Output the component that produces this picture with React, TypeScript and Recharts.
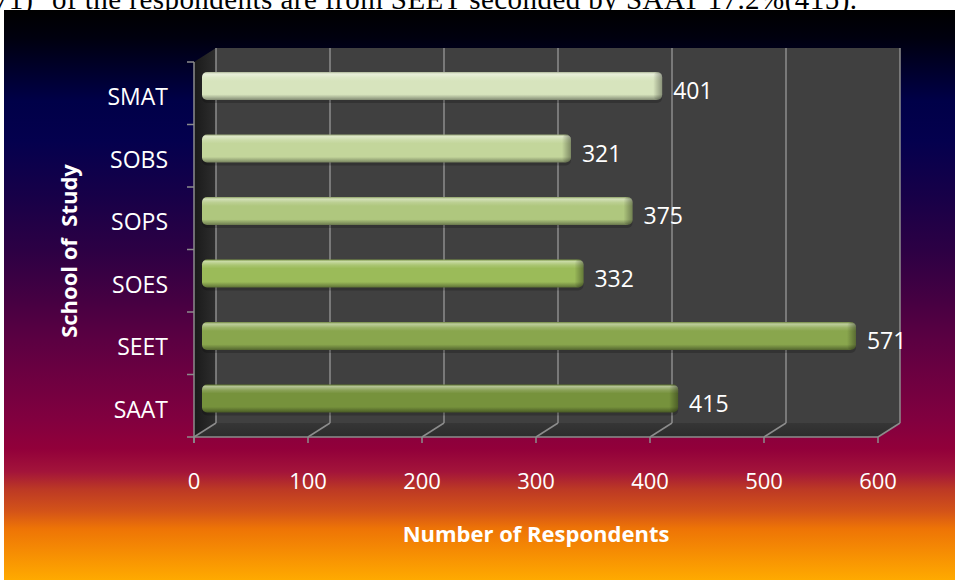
import React from 'react'
import { BarChart, Bar, XAxis, YAxis, CartesianGrid, Cell, LabelList } from 'recharts'

// data
const CATEGORIES = ['SMAT', 'SOBS', 'SOPS', 'SOES', 'SEET', 'SAAT']
const RESPONDENTS = [401, 321, 375, 332, 571, 415]
const X_TICKS = [0, 100, 200, 300, 400, 500, 600]
const BAR_COLORS = ['#d7e4bd', '#c3d69b', '#afc77e', '#9bbb59', '#89a64d', '#76923c']

const X_TITLE = 'Number of Respondents'
const Y_TITLE = 'School of  Study'
const TEXT_BEFORE = '23.6%(571)'
const TEXT_AFTER = 'of the respondents are from SEET seconded by SAAT 17.2%(415).'

// layout of the chart box
const W = 951
const H = 570
const M = { top: 45, right: 66, bottom: 120, left: 0 }
const Y_AXIS_W = 201
const X_AXIS_H = 30
const PLOT = {
  left: M.left + Y_AXIS_W,
  top: M.top,
  right: W - M.right,
  bottom: H - M.bottom - X_AXIS_H,
}
const DX = 11 // half depth of the 3d box
const DY = 7
const GRID = '#8c8c8c'
const FONT = '"Open Sans", "Noto Sans", sans-serif'

const data = CATEGORIES.map((name, i) => ({ name, value: RESPONDENTS[i] }))

function mix(hex: string, to: string, t: number) {
  const a = parseInt(hex.slice(1), 16)
  const b = parseInt(to.slice(1), 16)
  const ch = (v: number, s: number) => (v >> s) & 255
  const c = [16, 8, 0].map(s => Math.round(ch(a, s) + (ch(b, s) - ch(a, s)) * t))
  return '#' + c.map(v => v.toString(16).padStart(2, '0')).join('')
}

function BevelBar(props: any) {
  const { x, y, width, height, fill, index } = props
  if (!width || width <= 0) return null
  const id = `bar-grad-${index}`
  const bx = x - 3
  const bw = width + 3
  return (
    <g>
      <defs>
        <linearGradient id={id} x1="0" y1="0" x2="0" y2="1">
          <stop offset="0" stopColor={mix(fill, '#000000', 0.2)} />
          <stop offset="0.07" stopColor={mix(fill, '#ffffff', 0.45)} />
          <stop offset="0.2" stopColor={mix(fill, '#ffffff', 0.15)} />
          <stop offset="0.32" stopColor={fill} />
          <stop offset="0.8" stopColor={fill} />
          <stop offset="0.93" stopColor={mix(fill, '#000000', 0.25)} />
          <stop offset="1" stopColor={mix(fill, '#000000', 0.4)} />
        </linearGradient>
        <linearGradient id={id + '-end'} x1="0" y1="0" x2="1" y2="0">
          <stop offset="0" stopColor="#000" stopOpacity="0" />
          <stop offset="1" stopColor="#000" stopOpacity="0.35" />
        </linearGradient>
      </defs>
      <rect x={bx} y={y + 3} width={bw} height={height} rx={5} fill="#000" opacity={0.2} />
      <rect x={bx} y={y} width={bw} height={height} rx={5} fill={`url(#${id})`} />
      <rect x={x + width - 9} y={y} width={9} height={height} rx={5} fill={`url(#${id}-end)`} />
    </g>
  )
}

function XTick(props: any) {
  const { x, payload } = props
  const fx = x - DX
  const fy = PLOT.bottom + DY
  return (
    <g>
      <line x1={fx} y1={fy} x2={x + DX} y2={PLOT.bottom - DY} stroke={GRID} strokeWidth={1.5} />
      <line x1={fx} y1={fy} x2={fx} y2={fy + 6} stroke={GRID} strokeWidth={1.5} />
      <text x={fx} y={fy + 43} textAnchor="middle" dominantBaseline="central"
        fill="#fff" fontSize={22} fontFamily={FONT}>
        {payload.value}
      </text>
    </g>
  )
}

function YTick(props: any) {
  const { y, payload } = props
  const band = (PLOT.bottom - PLOT.top) / CATEGORIES.length
  const ty = y - band / 2 + DY
  return (
    <g>
      <line x1={PLOT.left - DX - 7} y1={ty} x2={PLOT.left - DX} y2={ty} stroke={GRID} strokeWidth={1.5} />
      <text x={PLOT.left - DX - 26} y={y + DY + 3} textAnchor="end" dominantBaseline="central"
        fill="#fff" fontSize={23} fontFamily={FONT}>
        {payload.value}
      </text>
    </g>
  )
}

function ValueLabel(props: any) {
  const { x, y, width, height, value } = props
  return (
    <text x={x + width + 11} y={y + height / 2 + 4} dominantBaseline="central"
      fill="#fff" fontSize={23} fontFamily={FONT}>
      {value}
    </text>
  )
}

// walls, floor, axis lines and titles behind the chart
function Frame() {
  const pw = PLOT.right - PLOT.left
  const ph = PLOT.bottom - PLOT.top
  const fl = PLOT.left - DX
  const bl = PLOT.left + DX
  const fb = PLOT.bottom + DY
  const bb = PLOT.bottom - DY
  return (
    <svg width={W} height={H} style={{ position: 'absolute', left: 0, top: 0 }}>
      <defs>
        <linearGradient id="left-wall" x1="0" y1="0" x2="1" y2="0">
          <stop offset="0" stopColor="#1a1a1a" />
          <stop offset="1" stopColor="#2e2e2e" />
        </linearGradient>
        <linearGradient id="floor" x1="0" y1="0" x2="0" y2="1">
          <stop offset="0" stopColor="#363636" />
          <stop offset="1" stopColor="#2c2c2c" />
        </linearGradient>
      </defs>
      <rect x={bl} y={PLOT.top - DY} width={pw} height={ph} fill="#404040" />
      <polygon points={`${fl},${PLOT.top + DY} ${bl},${PLOT.top - DY} ${bl},${bb} ${fl},${fb}`} fill="url(#left-wall)" />
      <polygon points={`${fl},${fb} ${fl + pw},${fb} ${bl + pw},${bb} ${bl},${bb}`} fill="url(#floor)" />
      <line x1={fl - 7} y1={fb} x2={fl + pw} y2={fb} stroke={GRID} strokeWidth={1.5} />
      <line x1={fl} y1={PLOT.top + DY} x2={fl} y2={fb + 6} stroke={GRID} strokeWidth={1.5} />
      <text x={(fl + fl + pw) / 2} y={H - 47} textAnchor="middle" dominantBaseline="central"
        fill="#fff" fontSize={22} fontWeight="bold" fontFamily={FONT}>
        {X_TITLE}
      </text>
      <text transform={`translate(64,241) rotate(-90)`} textAnchor="middle" dominantBaseline="central"
        fill="#fff" fontSize={22} fontWeight="bold" fontFamily={FONT} style={{ whiteSpace: 'pre' }}>
        {Y_TITLE}
      </text>
    </svg>
  )
}

const BG = 'linear-gradient(to bottom, #000000 0%, #00000f 5%, #000048 16%, #04004e 23%, #180048 33%, #2c0044 42%, #460042 51%, #5c0042 58%, #82003f 72%, #92003a 77%, #a3143a 81%, #bc3825 84%, #d45418 88%, #ee7406 91%, #ffaa00 100%)'

export default function App() {
  return (
    <div style={{ position: 'absolute', left: 0, top: 0, width: 955, height: 580, background: '#fff', overflow: 'hidden' }}>
      <svg width={955} height={10} style={{ position: 'absolute', left: 0, top: 0 }}>
        <text x={33} y={8.5} textAnchor="end" fontSize={29} fontFamily='"Liberation Serif", serif' fill="#000">
          {TEXT_BEFORE}
        </text>
        <text x={52} y={8.5} textLength={805} lengthAdjust="spacing" fontSize={29} fontFamily='"Liberation Serif", serif' fill="#000">
          {TEXT_AFTER}
        </text>
      </svg>
      <div style={{ position: 'absolute', left: 4, top: 10, width: W, height: H, background: BG }}>
        <Frame />
        <div style={{ position: 'absolute', left: 0, top: 0 }}>
          <BarChart width={W} height={H} data={data} layout="vertical" margin={M} barCategoryGap={0}>
            <CartesianGrid
              horizontal={false}
              x={PLOT.left + DX}
              y={PLOT.top - DY}
              width={PLOT.right - PLOT.left}
              height={PLOT.bottom - PLOT.top}
              fill="none"
              stroke={GRID}
              strokeWidth={1.5}
              strokeOpacity={1}
              verticalCoordinatesGenerator={(args: any) => {
                const s = args?.xAxis?.scale
                return X_TICKS.map(t =>
                  (typeof s === 'function'
                    ? s(t)
                    : PLOT.left + (t / 600) * (PLOT.right - PLOT.left)) + DX)
              }}
            />
            <XAxis type="number" domain={[0, 600]} ticks={X_TICKS} height={X_AXIS_H}
              axisLine={false} tickLine={false} tick={<XTick />} interval={0} />
            <YAxis type="category" dataKey="name" width={Y_AXIS_W}
              axisLine={false} tickLine={false} tick={<YTick />} interval={0} />
            <Bar dataKey="value" barSize={28} shape={<BevelBar />} isAnimationActive={false}>
              {data.map((d, i) => <Cell key={d.name} fill={BAR_COLORS[i]} />)}
              <LabelList dataKey="value" content={<ValueLabel />} />
            </Bar>
          </BarChart>
        </div>
      </div>
    </div>
  )
}
